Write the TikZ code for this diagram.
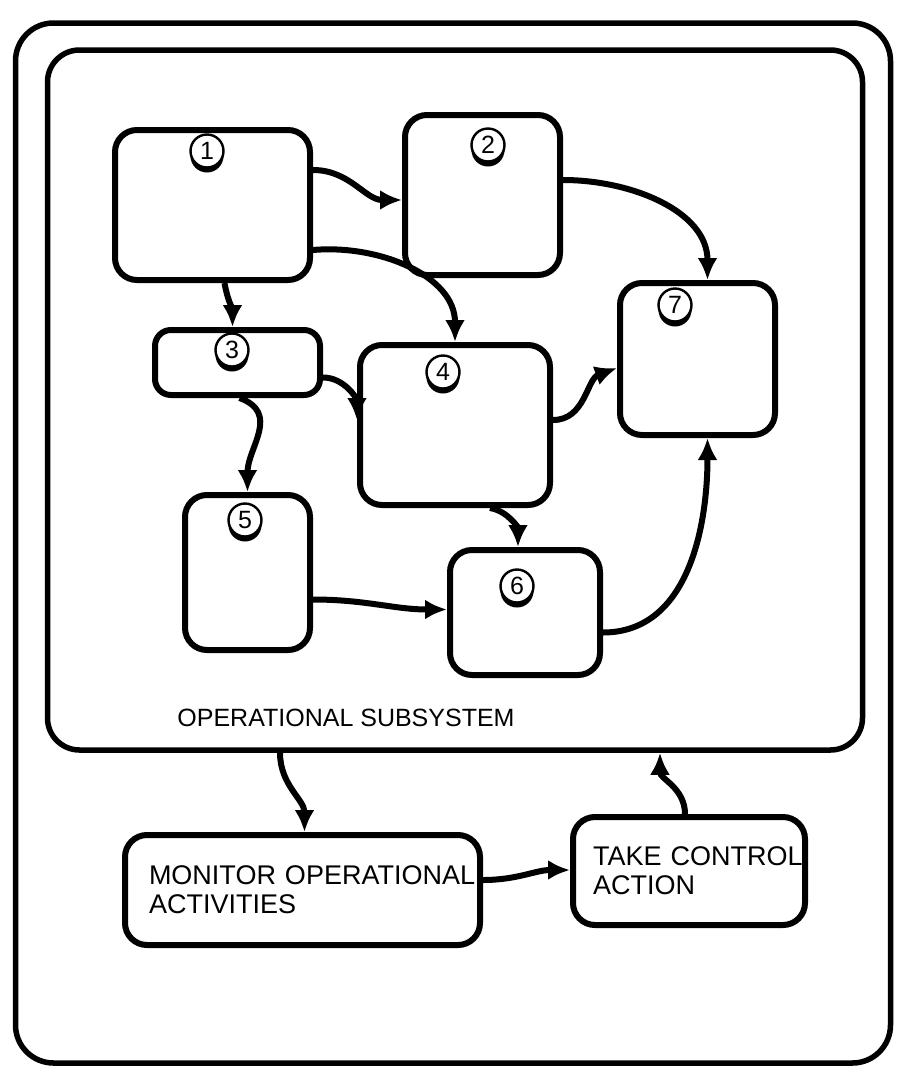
\documentclass[tikz,border=0pt]{standalone}
\usepackage{fontspec}
\setmainfont{Liberation Sans}
\usetikzlibrary{arrows.meta,shadows}
\begin{document}
\begin{tikzpicture}[x=1pt,y=-1pt,
  box/.style={draw,line width=6pt,rounded corners=22pt,inner sep=0pt},
  frame/.style={draw,line width=5.5pt,rounded corners=38pt,inner sep=0pt},
  num/.style={circle,draw,line width=2.4pt,fill=white,minimum size=33pt,inner sep=0pt,
    font=\fontsize{25}{25}\selectfont,
    drop shadow={shadow xshift=0pt,shadow yshift=-5pt,fill=black,opacity=1}},
  conn/.style={line width=6pt,-{Latex[length=22pt,width=20pt]}},
  txt/.style={font=\fontsize{27}{29}\selectfont,align=left},
]
\useasboundingbox (0,0) rectangle (907,1077);

% outer frame and operational subsystem frame
\node[frame,minimum width=875pt,minimum height=1040pt] (outer) at (453,543) {};
\node[frame,minimum width=815pt,minimum height=700pt,rounded corners=32pt] (inner) at (455,400) {};
\node[font=\fontsize{25}{25}\selectfont] (title) at (346,718) {OPERATIONAL  SUBSYSTEM};

% activity boxes
\node[box,minimum width=195pt,minimum height=150pt] (b1) at (212.5,205) {};
\node[box,minimum width=155pt,minimum height=160pt] (b2) at (482.5,195) {};
\node[box,minimum width=165pt,minimum height=65pt,rounded corners=16pt] (b3) at (237.5,362.5) {};
\node[box,minimum width=190pt,minimum height=160pt] (b4) at (455,425) {};
\node[box,minimum width=125pt,minimum height=155pt] (b5) at (247.5,572.5) {};
\node[box,minimum width=150pt,minimum height=125pt] (b6) at (525,612.5) {};
\node[box,minimum width=155pt,minimum height=152pt] (b7) at (697.5,359) {};

% numbered markers
\node[num] (c1) at (207,151) {1};
\node[num] (c2) at (488,145) {2};
\node[num] (c3) at (232,350) {3};
\node[num] (c4) at (443,372) {4};
\node[num] (c5) at (245,520) {5};
\node[num] (c6) at (517,586) {6};
\node[num] (c7) at (675,305) {7};

% control loop boxes
\node[box,txt,minimum width=355pt,minimum height=110pt,text width=307pt] (mon) at (302.5,890)
  {\mbox{MONITOR OPERATIONAL}\\ACTIVITIES};
\node[box,txt,minimum width=232pt,minimum height=108pt,text width=192pt] (take) at (689,871)
  {\mbox{TAKE CONTROL}\\ACTION};

% flows between activities
\draw[conn] ([yshift=35pt]b1.east) to[out=0,in=180] ([yshift=-5pt]b2.west);
\draw[conn] ([yshift=-45pt]b1.east) to[out=5,in=90] (b4.north);
\draw[conn] ([xshift=12pt]b1.south) to[out=-80,in=90] ([xshift=-5pt]b3.north);
\draw[conn] ([yshift=15pt]b2.east) to[out=0,in=90] ([xshift=10pt]b7.north);
\draw[conn] ([yshift=-15pt]b3.east) to[out=0,in=90] ([yshift=5pt]b4.west);
\draw[conn] ([xshift=2pt]b3.south) to[out=-20,in=90,looseness=1.2] (b5.north);
\draw[conn] ([yshift=5pt]b4.east) to[out=0,in=200] ([yshift=-9pt]b7.west);
\draw[conn] ([xshift=35pt]b4.south) to[out=-10,in=90] ([xshift=-7pt]b6.north);
\draw[conn] ([yshift=-27pt]b5.east) to[out=0,in=180] ([yshift=3pt]b6.west);
\draw[conn] ([yshift=-20pt]b6.east) to[out=0,in=-90] ([xshift=10pt]b7.south);

% control loop
\draw[conn] ([xshift=-175pt]inner.south) to[out=-90,in=90] ([xshift=2pt]mon.north);
\draw[conn] ([yshift=10pt]mon.east) to[out=0,in=180] ([yshift=1pt]take.west);
\draw[conn] ([xshift=-4pt]take.north) to[out=90,in=-90] ([xshift=205pt]inner.south);
\end{tikzpicture}
\end{document}
